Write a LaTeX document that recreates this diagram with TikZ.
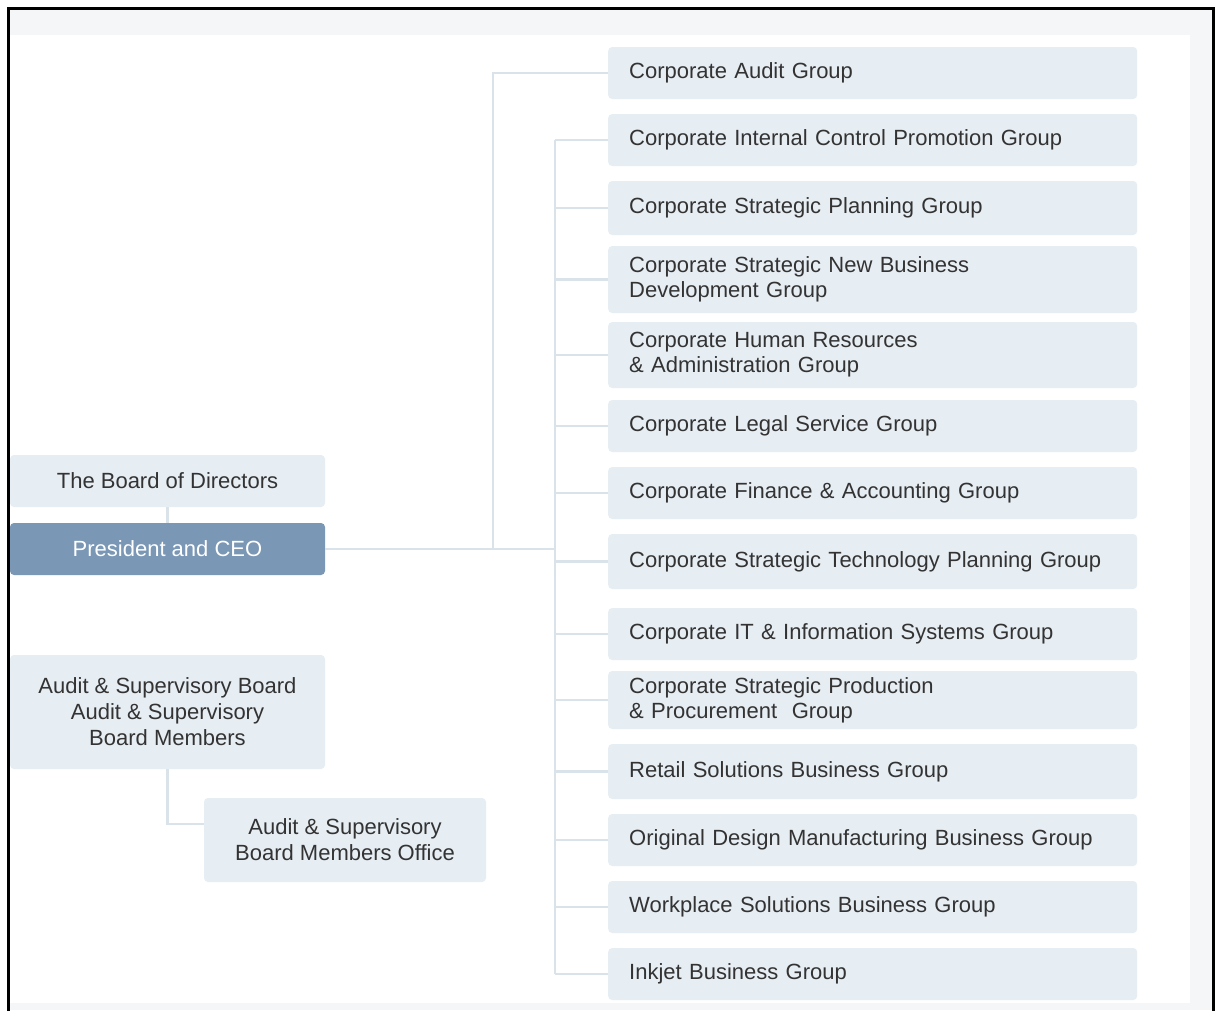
\documentclass[tikz,border=0pt]{standalone}
\usepackage{fontspec}
\setmainfont{Liberation Sans}
\definecolor{boxfill}{HTML}{E6EDF3}
\definecolor{ceofill}{HTML}{7A97B5}
\definecolor{linec}{HTML}{DAE3EA}
\definecolor{bggray}{HTML}{F5F6F8}
\definecolor{txt}{HTML}{333333}
\begin{document}
\begin{tikzpicture}[x=1pt,y=-1pt,
  rbox/.style={fill=boxfill, rounded corners=4pt, anchor=west, minimum width=529pt,
    text width=487pt, inner xsep=21pt, inner ysep=0pt, align=left, text=txt,
    font=\fontsize{22}{25}\selectfont},
  lbox/.style={fill=boxfill, rounded corners=4pt, inner sep=0pt, align=center, text=txt,
    font=\fontsize{22}{26}\selectfont},
  conn/.style={draw=linec, line width=2.6pt}]
\useasboundingbox (0,0) rectangle (1221,1010);
% frame and background
\fill[bggray] (9,9) rectangle (1213,1010);
\fill[white] (10,35) rectangle (1190,1003);
\draw[black, line width=2.5pt] (8.5,1012) -- (8.5,8.5) -- (1213.5,8.5) -- (1213.5,1012);

% left column
\node[lbox, minimum width=315pt, minimum height=52pt] (board) at (167.5,481) {The Board of Directors};
\node[lbox, fill=ceofill, text=white, minimum width=315pt, minimum height=52pt] (ceo) at (167.5,549) {President and CEO};
\node[lbox, minimum width=315pt, minimum height=114pt] (audit) at (167.5,712) {Audit \& Supervisory Board\\Audit \& Supervisory\\Board Members};
\node[lbox, minimum width=282pt, minimum height=84pt] (office) at (345,840) {Audit \& Supervisory\\Board Members Office};

% right column
\node[rbox, minimum height=52pt] (g1) at (608,73) {Corporate Audit Group};
\node[rbox, minimum height=52pt] (g2) at (608,140) {Corporate Internal Control Promotion Group};
\node[rbox, minimum height=54pt] (g3) at (608,208) {Corporate Strategic Planning Group};
\node[rbox, minimum height=67pt] (g4) at (608,279.5) {Corporate Strategic New Business\\Development Group};
\node[rbox, minimum height=66pt] (g5) at (608,355) {Corporate Human Resources\\\& Administration Group};
\node[rbox, minimum height=52pt] (g6) at (608,426) {Corporate Legal Service Group};
\node[rbox, minimum height=52pt] (g7) at (608,493) {Corporate Finance \& Accounting Group};
\node[rbox, minimum height=55pt] (g8) at (608,561.5) {Corporate Strategic Technology Planning Group};
\node[rbox, minimum height=52pt] (g9) at (608,634) {Corporate IT \& Information Systems Group};
\node[rbox, minimum height=58pt] (g10) at (608,700) {Corporate Strategic Production\\\& Procurement\ \ Group};
\node[rbox, minimum height=55pt] (g11) at (608,771.5) {Retail Solutions Business Group};
\node[rbox, minimum height=52pt] (g12) at (608,840) {Original Design Manufacturing Business Group};
\node[rbox, minimum height=52pt] (g13) at (608,907) {Workplace Solutions Business Group};
\node[rbox, minimum height=52pt] (g14) at (608,974) {Inkjet Business Group};

% connectors
\coordinate (trunk) at (555,549);
\coordinate (ja) at (493,549);
\draw[conn] (board.south) -- (ceo.north);
\draw[conn] (ceo.east) -- (trunk);
\draw[conn] (ja) |- (g1.west);
\draw[conn] (g2.west -| trunk) -- (g14.west -| trunk);
\foreach \i in {2,...,14} {\draw[conn] (g\i.west -| trunk) -- (g\i.west);}
\draw[conn] (audit.south) |- ([yshift=16pt]office.west);
\end{tikzpicture}
\end{document}
